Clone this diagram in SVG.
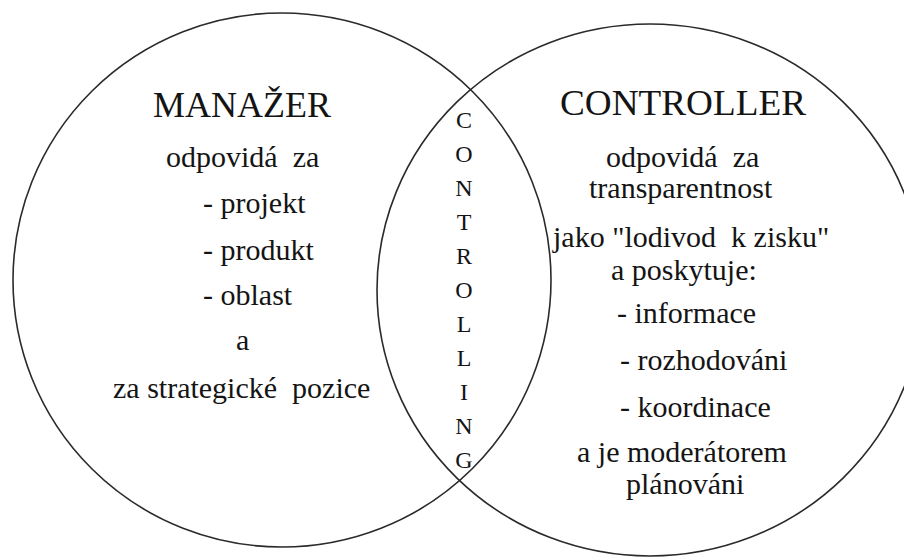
<svg xmlns="http://www.w3.org/2000/svg" width="904" height="559" viewBox="0 0 904 559">
  <style>
    .ring { fill: none; stroke: #2a2a2a; stroke-width: 1.6; }
    .txt { font-family: "Liberation Serif", "Times New Roman", serif; fill: #141414; white-space: pre; }
    .head { font-size: 36px; }
    .body { font-size: 30px; }
    .vert { font-size: 24px; text-anchor: middle; }
  </style>
  <rect width="904" height="559" fill="#ffffff"/>

  <!-- left set: manager -->
  <g id="manazer">
    <ellipse class="ring" cx="282" cy="280" rx="269" ry="267"/>
    <text class="txt head" x="153" y="117">MANAŽER</text>
    <text class="txt body" x="166" y="167">odpovidá  za</text>
    <text class="txt body" x="203" y="213">- projekt</text>
    <text class="txt body" x="203" y="260">- produkt</text>
    <text class="txt body" x="203" y="305">- oblast</text>
    <text class="txt body" x="236" y="350">a</text>
    <text class="txt body" x="113" y="398">za strategické  pozice</text>
  </g>

  <!-- right set: controller -->
  <g id="controller">
    <ellipse class="ring" cx="650" cy="290" rx="273" ry="266"/>
    <text class="txt head" x="560" y="115" textLength="246" lengthAdjust="spacingAndGlyphs">CONTROLLER</text>
    <text class="txt body" x="606" y="167">odpovidá  za</text>
    <text class="txt body" x="589" y="198">transparentnost</text>
    <text class="txt body" x="553" y="247">jako "lodivod  k zisku"</text>
    <text class="txt body" x="611" y="280">a poskytuje:</text>
    <text class="txt body" x="617" y="323">- informace</text>
    <text class="txt body" x="620" y="370">- rozhodováni</text>
    <text class="txt body" x="620" y="417">- koordinace</text>
    <text class="txt body" x="577" y="462">a je moderátorem</text>
    <text class="txt body" x="626" y="494">plánováni</text>
  </g>

  <!-- overlap: vertical lettering -->
  <g id="controlling">
    <text class="txt vert" x="464" y="128">C</text>
    <text class="txt vert" x="464" y="162">O</text>
    <text class="txt vert" x="464" y="196">N</text>
    <text class="txt vert" x="464" y="230">T</text>
    <text class="txt vert" x="464" y="264">R</text>
    <text class="txt vert" x="464" y="298">O</text>
    <text class="txt vert" x="464" y="332">L</text>
    <text class="txt vert" x="464" y="366">L</text>
    <text class="txt vert" x="464" y="400">I</text>
    <text class="txt vert" x="464" y="434">N</text>
    <text class="txt vert" x="464" y="468">G</text>
  </g>
</svg>
